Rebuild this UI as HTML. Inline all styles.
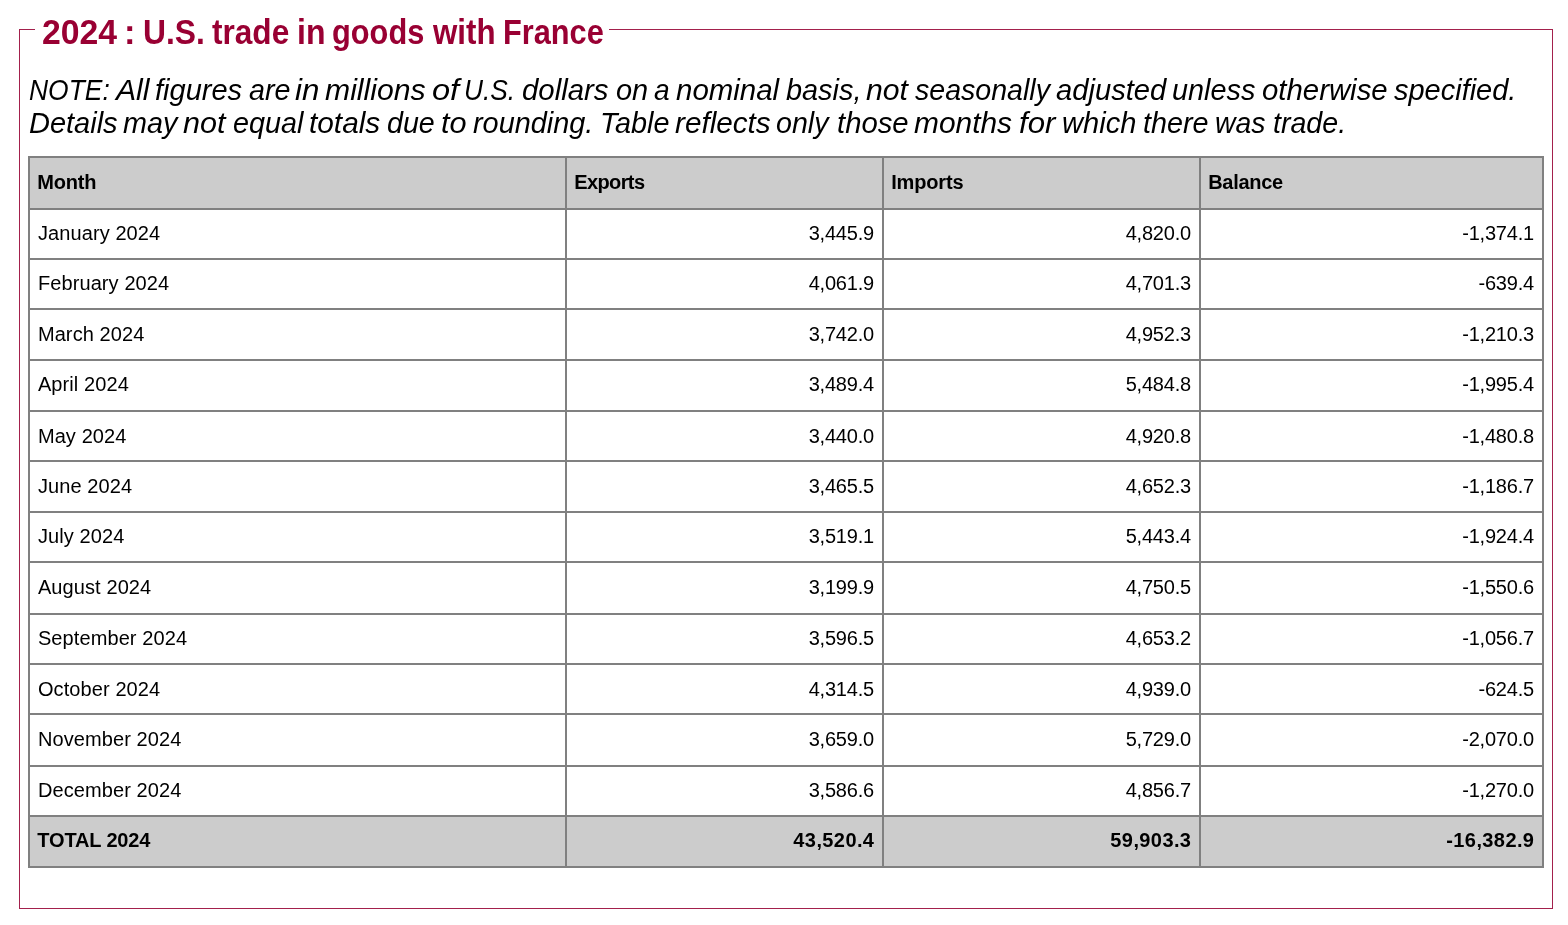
<!DOCTYPE html>
<html><head><meta charset="utf-8"><title>2024 : U.S. trade in goods with France</title>
<style>
html,body{margin:0;padding:0;background:#fff;}
body{width:1568px;height:925px;position:relative;overflow:hidden;font-family:"Liberation Sans",sans-serif;color:#000;}
.fs{position:absolute;left:19px;top:29px;width:1532px;height:878px;border:1px solid #a3204c;}
.lg{position:absolute;left:35px;top:10px;height:40px;width:574px;background:#fff;}
.title{will-change:transform;position:absolute;left:0px;top:12.0px;font-weight:bold;font-size:34.5px;line-height:40px;color:#990033;white-space:nowrap;}
.note{will-change:transform;position:absolute;left:0;width:1568px;height:32.35px;font-style:italic;font-size:29px;line-height:32.35px;white-space:nowrap;}
table{will-change:transform;position:absolute;left:28px;top:156px;border-collapse:collapse;table-layout:fixed;width:1516px;}
td,th{border:2px solid #808080;padding:0 8px var(--pb,2.6px) 8px;font-size:20px;line-height:24px;white-space:nowrap;overflow:hidden;}
th{background:#ccc;text-align:left;font-weight:bold;letter-spacing:-0.5px;padding-left:7.2px;}
td.m{padding-left:7.9px;letter-spacing:0.1px;}
tr.tot td.m{padding-left:7.3px;letter-spacing:-0.15px;}
td.n{text-align:right;letter-spacing:-0.2px;}
tr.tot td{background:#ccc;font-weight:bold;}
tr.tot td.n{letter-spacing:0.4px;padding-right:7.6px;}
</style></head><body>
<div class="fs"></div>
<div class="lg"></div>
<div class="title"><span style="position:absolute;left:42.11px;transform:scaleX(0.9785);transform-origin:0 0">2024</span> <span style="position:absolute;left:123.93px;transform:scaleX(1.0000);transform-origin:0 0">:</span> <span style="position:absolute;left:142.87px;transform:scaleX(0.9218);transform-origin:0 0">U.S.</span> <span style="position:absolute;left:212.45px;transform:scaleX(0.9150);transform-origin:0 0">trade</span> <span style="position:absolute;left:296.71px;transform:scaleX(0.9277);transform-origin:0 0">in</span> <span style="position:absolute;left:332.44px;transform:scaleX(0.8918);transform-origin:0 0">goods</span> <span style="position:absolute;left:432.67px;transform:scaleX(0.9066);transform-origin:0 0">with</span> <span style="position:absolute;left:502.67px;transform:scaleX(0.8906);transform-origin:0 0">France</span></div>
<div class="note" style="top:74.2px"><span style="position:absolute;left:28.83px;transform:scaleX(0.9112);transform-origin:0 0">NOTE:</span> <span style="position:absolute;left:115.75px;transform:scaleX(1.0397);transform-origin:0 0">All</span> <span style="position:absolute;left:155.48px;transform:scaleX(1.0002);transform-origin:0 0">figures</span> <span style="position:absolute;left:248.61px;transform:scaleX(0.9896);transform-origin:0 0">are</span> <span style="position:absolute;left:295.22px;transform:scaleX(1.0783);transform-origin:0 0">in</span> <span style="position:absolute;left:325.19px;transform:scaleX(1.0405);transform-origin:0 0">millions</span> <span style="position:absolute;left:431.82px;transform:scaleX(1.1227);transform-origin:0 0">of</span> <span style="position:absolute;left:464.48px;transform:scaleX(0.9062);transform-origin:0 0">U.S.</span> <span style="position:absolute;left:522.46px;transform:scaleX(1.0131);transform-origin:0 0">dollars</span> <span style="position:absolute;left:615.62px;transform:scaleX(0.9984);transform-origin:0 0">on</span> <span style="position:absolute;left:654.38px;transform:scaleX(0.9700);transform-origin:0 0">a</span> <span style="position:absolute;left:676.37px;transform:scaleX(1.0153);transform-origin:0 0">nominal</span> <span style="position:absolute;left:785.52px;transform:scaleX(0.9953);transform-origin:0 0">basis,</span> <span style="position:absolute;left:865.69px;transform:scaleX(1.0411);transform-origin:0 0">not</span> <span style="position:absolute;left:914.57px;transform:scaleX(0.9849);transform-origin:0 0">seasonally</span> <span style="position:absolute;left:1056.13px;transform:scaleX(1.0063);transform-origin:0 0">adjusted</span> <span style="position:absolute;left:1172.18px;transform:scaleX(0.9941);transform-origin:0 0">unless</span> <span style="position:absolute;left:1262.20px;transform:scaleX(1.0123);transform-origin:0 0">otherwise</span> <span style="position:absolute;left:1393.66px;transform:scaleX(0.9989);transform-origin:0 0">specified.</span></div>
<div class="note" style="top:106.55000000000001px"><span style="position:absolute;left:28.58px;transform:scaleX(0.9997);transform-origin:0 0">Details</span> <span style="position:absolute;left:122.53px;transform:scaleX(0.9920);transform-origin:0 0">may</span> <span style="position:absolute;left:183.39px;transform:scaleX(1.0523);transform-origin:0 0">not</span> <span style="position:absolute;left:232.61px;transform:scaleX(0.9921);transform-origin:0 0">equal</span> <span style="position:absolute;left:308.87px;transform:scaleX(1.0275);transform-origin:0 0">totals</span> <span style="position:absolute;left:386.71px;transform:scaleX(0.9875);transform-origin:0 0">due</span> <span style="position:absolute;left:441.46px;transform:scaleX(1.0574);transform-origin:0 0">to</span> <span style="position:absolute;left:472.74px;transform:scaleX(0.9952);transform-origin:0 0">rounding.</span> <span style="position:absolute;left:599.89px;transform:scaleX(0.9935);transform-origin:0 0">Table</span> <span style="position:absolute;left:675.23px;transform:scaleX(1.0240);transform-origin:0 0">reflects</span> <span style="position:absolute;left:776.49px;transform:scaleX(0.9859);transform-origin:0 0">only</span> <span style="position:absolute;left:836.58px;transform:scaleX(1.0102);transform-origin:0 0">those</span> <span style="position:absolute;left:914.35px;transform:scaleX(1.0311);transform-origin:0 0">months</span> <span style="position:absolute;left:1018.53px;transform:scaleX(1.0742);transform-origin:0 0">for</span> <span style="position:absolute;left:1061.91px;transform:scaleX(1.0027);transform-origin:0 0">which</span> <span style="position:absolute;left:1142.84px;transform:scaleX(0.9915);transform-origin:0 0">there</span> <span style="position:absolute;left:1214.61px;transform:scaleX(0.9777);transform-origin:0 0">was</span> <span style="position:absolute;left:1272.68px;transform:scaleX(0.9853);transform-origin:0 0">trade.</span></div>
<table>
<colgroup><col style="width:537px"><col style="width:317px"><col style="width:317px"><col style="width:343px"></colgroup>
<tr style="height:51.60px;--pb:2.60px"><th style="letter-spacing:-0.2px">Month</th><th style="letter-spacing:-0.6px">Exports</th><th style="letter-spacing:-0.15px">Imports</th><th style="letter-spacing:-0.3px">Balance</th></tr>
<tr style="height:50.300px;--pb:1.15px"><td class="m">January 2024</td><td class="n">3,445.9</td><td class="n">4,820.0</td><td class="n">-1,374.1</td></tr>
<tr style="height:50.200px;--pb:2.60px"><td class="m">February 2024</td><td class="n">4,061.9</td><td class="n">4,701.3</td><td class="n">-639.4</td></tr>
<tr style="height:50.600px;--pb:1.10px"><td class="m">March 2024</td><td class="n">3,742.0</td><td class="n">4,952.3</td><td class="n">-1,210.3</td></tr>
<tr style="height:51.300px;--pb:2.60px"><td class="m">April 2024</td><td class="n">3,489.4</td><td class="n">5,484.8</td><td class="n">-1,995.4</td></tr>
<tr style="height:50.500px;--pb:1.10px"><td class="m">May 2024</td><td class="n">3,440.0</td><td class="n">4,920.8</td><td class="n">-1,480.8</td></tr>
<tr style="height:50.300px;--pb:1.40px"><td class="m">June 2024</td><td class="n">3,465.5</td><td class="n">4,652.3</td><td class="n">-1,186.7</td></tr>
<tr style="height:50.500px;--pb:2.60px"><td class="m">July 2024</td><td class="n">3,519.1</td><td class="n">5,443.4</td><td class="n">-1,924.4</td></tr>
<tr style="height:51.400px;--pb:2.60px"><td class="m">August 2024</td><td class="n">3,199.9</td><td class="n">4,750.5</td><td class="n">-1,550.6</td></tr>
<tr style="height:50.300px;--pb:2.60px"><td class="m">September 2024</td><td class="n">3,596.5</td><td class="n">4,653.2</td><td class="n">-1,056.7</td></tr>
<tr style="height:50.500px;--pb:1.10px"><td class="m">October 2024</td><td class="n">4,314.5</td><td class="n">4,939.0</td><td class="n">-624.5</td></tr>
<tr style="height:51.400px;--pb:2.60px"><td class="m">November 2024</td><td class="n">3,659.0</td><td class="n">5,729.0</td><td class="n">-2,070.0</td></tr>
<tr style="height:50.200px;--pb:2.60px"><td class="m">December 2024</td><td class="n">3,586.6</td><td class="n">4,856.7</td><td class="n">-1,270.0</td></tr>
<tr class="tot" style="height:50.700px;--pb:2.60px"><td class="m">TOTAL 2024</td><td class="n">43,520.4</td><td class="n">59,903.3</td><td class="n">-16,382.9</td></tr>
</table>
</body></html>
